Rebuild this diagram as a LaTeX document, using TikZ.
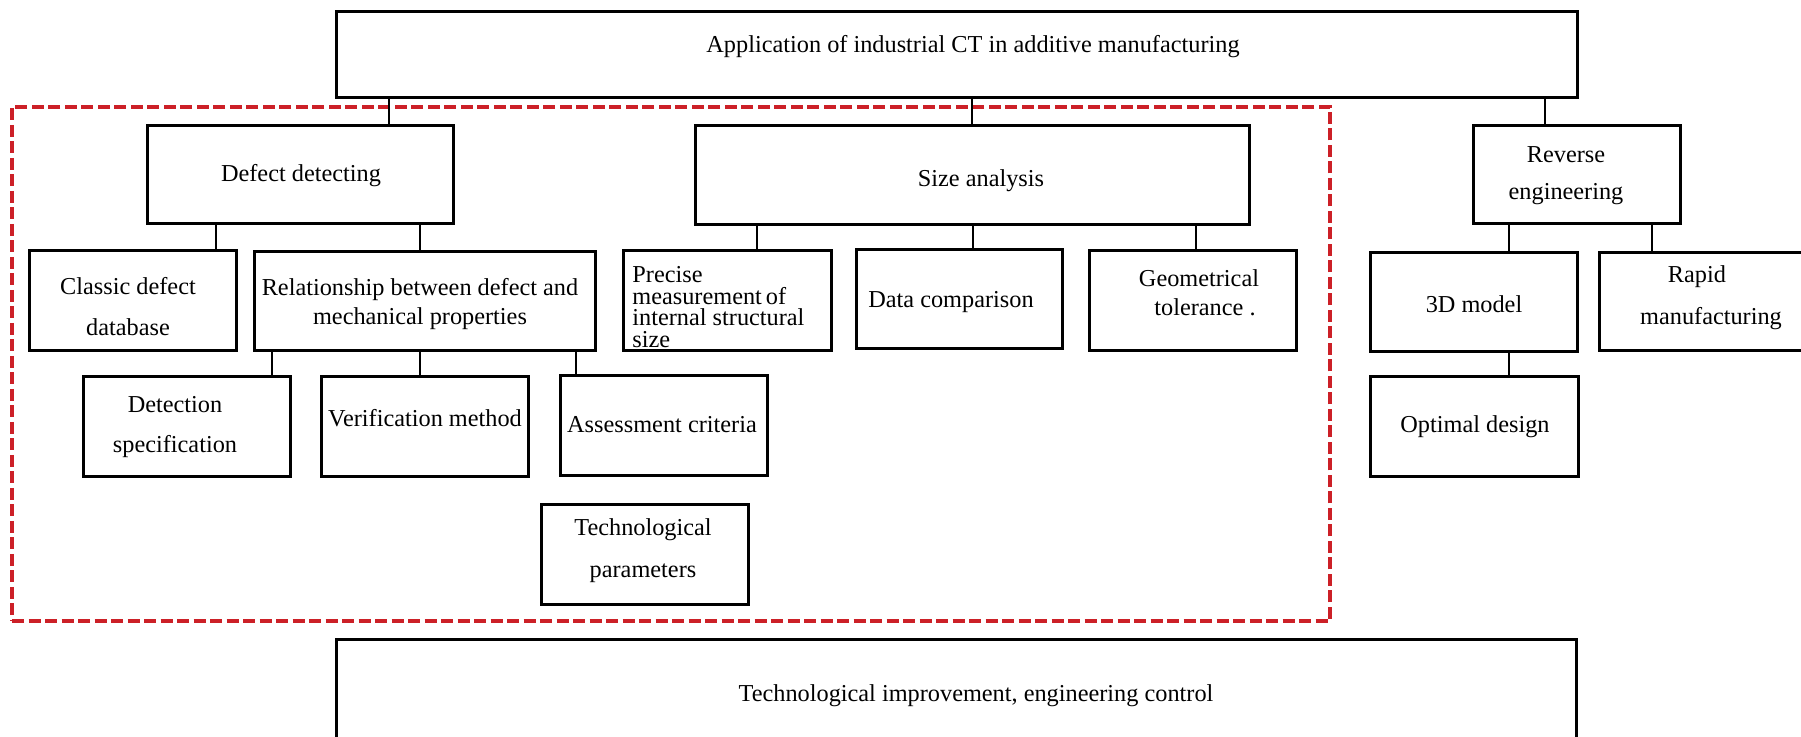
\documentclass[tikz,border=0pt]{standalone}
\usepackage{fontspec}
\setmainfont{Liberation Serif}
\usetikzlibrary{calc}
\definecolor{dashred}{RGB}{204,32,39}
\tikzset{
  box/.style={draw=black, line width=1.5pt, rectangle, inner sep=0pt},
  txt/.style={font=\fontsize{12.15pt}{14.5pt}\selectfont, align=center, inner sep=0pt},
  conn/.style={draw=black, line width=1.4pt},
  redframe/.style={draw=dashred, line width=1.75pt, dash pattern=on 6pt off 2.25pt}
}
\newcommand\linkup[3]{\draw[conn] let \p1=([xshift=#3]#1.north), \p2=(#2.south) in (\p1) -- (\x1,\y2);}
\begin{document}
\begin{tikzpicture}[x=0.5pt, y=-0.5pt]
\useasboundingbox (0,0) rectangle (1801,737);
% red dashed frame
\node[redframe, rectangle, inner sep=0pt, minimum width=659pt, minimum height=257pt] (frame) at (671,364) {};
% boxes
\node[box, minimum width=620.5pt, minimum height=43pt] (top) at (956.5,55) {};
\node[box, minimum width=153pt, minimum height=49pt] (defect) at (300,175) {};
\node[box, minimum width=277pt, minimum height=49.5pt] (size) at (972,175.5) {};
\node[box, minimum width=103.5pt, minimum height=49pt] (rev) at (1576.5,175) {};
\node[box, minimum width=103.25pt, minimum height=50pt] (classic) at (133,301) {};
\node[box, minimum width=170.5pt, minimum height=49.5pt] (relation) at (424.5,301.5) {};
\node[box, minimum width=104pt, minimum height=50pt] (precise) at (727,301) {};
\node[box, minimum width=103pt, minimum height=49.5pt] (data) at (959.5,299.5) {};
\node[box, minimum width=103.5pt, minimum height=50pt] (geo) at (1193,301) {};
\node[box, minimum width=103.5pt, minimum height=49.5pt] (model) at (1473.5,302.5) {};
\node[box, minimum width=102pt, minimum height=49pt] (rapid) at (1701,302) {};
\node[box, minimum width=103.25pt, minimum height=50pt] (detect) at (187,427) {};
\node[box, minimum width=103.25pt, minimum height=50pt] (verif) at (425,427) {};
\node[box, minimum width=103.75pt, minimum height=50pt] (assess) at (664,426) {};
\node[box, minimum width=103.5pt, minimum height=50pt] (techpar) at (644.5,555) {};
\node[box, minimum width=104pt, minimum height=50pt] (optimal) at (1474,427) {};
\node[box, minimum width=620.25pt, minimum height=55pt] (bottom) at (956.5,695) {};
% texts
\node[txt] (topt) at (973,47) {Application of industrial CT in additive manufacturing};
\node[txt] (defectt) at (301,176) {Defect detecting};
\node[txt] (sizet) at (981,181) {Size analysis};
\node[txt] (revt) at (1566,176) {Reverse\\[4pt]engineering};
\node[txt] (classict) at (128,306.5) {Classic defect\\[6pt]database};
\node[txt] (relationt) at (420,304) {Relationship between defect and\\mechanical properties};
\node[txt, align=left, anchor=west, font=\fontsize{12.15pt}{10.7pt}\selectfont] (preciset) at (632,307) {Precise\\measurement\hspace{2pt}of\\internal structural\\size};
\node[txt] (datat) at (951,302) {Data comparison};
\node[txt] (geot) at (1199,293) {Geometrical\\\hspace*{6pt}tolerance .};
\node[txt] (modelt) at (1474,304) {3D model};
\node[txt] (rapidt) at (1697,298) {Rapid\\[6.5pt]\hspace*{14pt}manufacturing};
\node[txt] (detectt) at (175,427) {Detection\\[5.5pt]specification};
\node[txt] (veriftt) at (425,418) {Verification method};
\node[txt] (assesst) at (662,425) {Assessment criteria};
\node[txt] (techpart) at (643,551) {Technological\\[6.5pt]parameters};
\node[txt] (optimalt) at (1475,427) {Optimal design};
\node[txt] (bottomt) at (976,696) {Technological improvement, engineering control};
% connectors
\linkup{defect}{top}{44.5pt}
\linkup{size}{top}{0pt}
\linkup{rev}{top}{-15.75pt}
\linkup{classic}{defect}{41.5pt}
\linkup{relation}{defect}{-2.25pt}
\linkup{precise}{size}{15pt}
\linkup{data}{size}{6.75pt}
\linkup{geo}{size}{1.5pt}
\linkup{model}{rev}{17.75pt}
\linkup{rapid}{rev}{-24.5pt}
\linkup{detect}{relation}{42.5pt}
\linkup{verif}{relation}{-2.5pt}
\linkup{assess}{relation}{-44pt}
\linkup{optimal}{model}{17.5pt}
\end{tikzpicture}
\end{document}
